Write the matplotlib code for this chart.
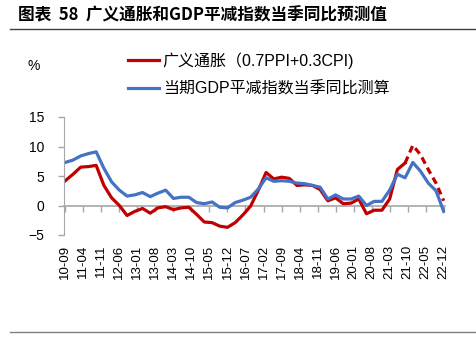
import numpy as np
import matplotlib
matplotlib.use("Agg")
import matplotlib.pyplot as plt

plt.rcParams['font.family'] = ['Liberation Sans', 'Noto Sans CJK SC', 'DejaVu Sans']

# 季度数据, 2010-09 至 2022-12
broad_inflation = [4.2, 5.3, 6.5, 6.6, 6.8, 3.4, 1.3, 0.0, -1.7, -1.0,
                   -0.5, -1.3, -0.4, -0.2, -0.7, -0.4, -0.3, -1.5, -2.8, -2.9,
                   -3.5, -3.7, -2.9, -1.6, -0.1, 2.6, 5.6, 4.5, 4.8, 4.6,
                   3.4, 3.5, 3.4, 2.7, 0.8, 1.3, 0.3, 0.4, 1.1, -1.4,
                   -0.8, -0.8, 1.1, 6.1, 7.2]
broad_forecast = [7.2, 10.2, 8.6, 6.1, 3.8, 0.8]   # 2021-09 起的预测 (虚线)
gdp_deflator = [7.3, 7.7, 8.4, 8.8, 9.1, 6.3, 4.0, 2.6, 1.6, 1.8,
                2.2, 1.5, 2.1, 2.6, 1.2, 1.4, 1.4, 0.5, 0.3, 0.6,
                -0.3, -0.4, 0.5, 0.9, 1.4, 2.8, 4.7, 4.1, 4.2, 4.1,
                3.8, 3.7, 3.4, 3.1, 1.1, 1.8, 1.1, 1.1, 1.6, 0.0,
                0.7, 0.7, 2.6, 5.3, 4.7, 7.3, 5.8, 3.8, 2.5, -1.0]
tick_labels = ['10-09', '11-04', '11-11', '12-06', '13-01', '13-08', '14-03',
               '14-10', '15-05', '15-12', '16-07', '17-02', '17-09', '18-04',
               '18-11', '19-06', '20-01', '20-08', '21-03', '21-10', '22-05',
               '22-12']

# x 轴按月计
months = np.arange(len(gdp_deflator)) * 3
months_solid = months[:len(broad_inflation)]
months_fc = months[len(broad_inflation) - 1:]
tick_pos = np.arange(len(tick_labels)) * 7

red = '#C00000'
blue = '#4472C4'
gray = '#A6A6A6'

fig = plt.figure(figsize=(4.76, 3.39), dpi=100)
ax = fig.add_axes([64 / 476, 1 - 235 / 339, 381 / 476, 118 / 339])

l1, = ax.plot(months_solid, broad_inflation, color=red, lw=2.3,
              label='广义通胀（0.7PPI+0.3CPI)', solid_joinstyle='round')
ax.plot(months_fc, broad_forecast, color=red, lw=2.3, ls=(0, (2.2, 1.4)))
l2, = ax.plot(months, gdp_deflator, color=blue, lw=2.3,
              label='当期GDP平减指数当季同比测算', solid_joinstyle='round')

ax.set_xlim(-0.5, 147.5)
ax.set_ylim(-5, 15)
ax.set_yticks([-5, 0, 5, 10, 15])
ax.tick_params(axis='y', direction='out', length=4, width=1, color=gray,
               labelsize=10, pad=10)

for s in ['top', 'right', 'bottom']:
    ax.spines[s].set_visible(False)
ax.spines['left'].set_color(gray)

# 标签放在底部
ax.set_xticks(tick_pos)
ax.set_xticklabels(tick_labels, rotation=90, fontsize=9.5)
ax.tick_params(axis='x', length=0, pad=7)

# 零线与刻度
zero = ax.secondary_xaxis(0.25)
zero.set_xticks(tick_pos)
zero.set_xticklabels([])
zero.tick_params(direction='out', length=4, width=1, color=gray)
zero.spines['bottom'].set_color(gray)
zero.spines['bottom'].set_linewidth(1.2)

ax.set_zorder(2)

fig.legend(handles=[l1, l2], loc='upper left',
           bbox_to_anchor=(122 / 476, 1 - 46 / 339), frameon=False,
           fontsize=11.5, handlelength=1.9, handletextpad=0.25,
           labelspacing=0.75, borderaxespad=0)

fig.text(28 / 476, 1 - 66 / 339, '%', fontsize=10, va='center')

fig.text(18 / 476, 1 - 15 / 339, '图表  58  广义通胀和GDP平减指数当季同比预测值',
         fontsize=12, fontweight='bold', va='center',
         family=['Noto Sans CJK SC', 'DejaVu Sans'])

fig.add_artist(plt.Line2D([10 / 476, 1], [1 - 29 / 339, 1 - 29 / 339],
                          color='#404040', lw=1))
fig.add_artist(plt.Line2D([10 / 476, 1], [1 - 332 / 339, 1 - 332 / 339],
                          color='#808080', lw=1))

fig.savefig('out.png', dpi=100)
